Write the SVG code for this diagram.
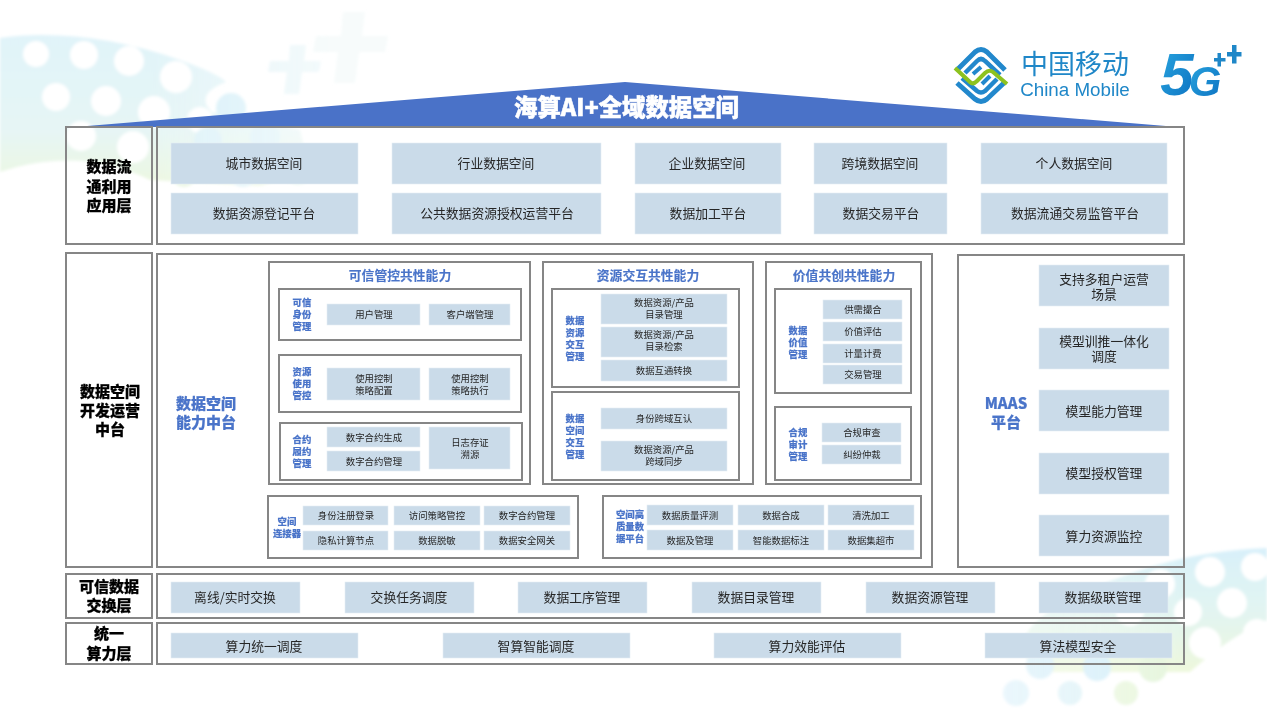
<svg xmlns="http://www.w3.org/2000/svg" width="1267" height="713" viewBox="0 0 1267 713">
<style>
text{font-family:"Noto Sans CJK SC","Liberation Sans",sans-serif;text-anchor:middle}
.b{fill:none;stroke:#868686;stroke-width:2}
.c{fill:#cadbe9;stroke:#e4edf4;stroke-width:.6}
.t{font-size:12.8px;fill:#262626}
.s{font-size:9.4px;fill:#262626}
.k{font-size:15px;font-weight:900;fill:#000;stroke:#000;stroke-width:.25}
.h{font-size:12.8px;font-weight:700;fill:#4a74c9;stroke:#4a74c9;stroke-width:.15}
.l{font-size:9.4px;font-weight:900;fill:#4a74c9;stroke:#4a74c9;stroke-width:.15}
.m{font-size:15px;font-weight:900;fill:#4a74c9;stroke:#4a74c9;stroke-width:.2}
.wd{fill:#fff}
.en{font-family:"Liberation Sans",sans-serif}
.fg{font-family:"Liberation Sans",sans-serif;font-weight:700;font-style:italic;fill:url(#five)}
</style>
<defs>
<linearGradient id="wv" x1="0" y1="0" x2="0" y2="1"><stop offset="0" stop-color="#d8f0f8"/><stop offset=".62" stop-color="#dff3f3"/><stop offset="1" stop-color="#e8f6d8"/></linearGradient>
<linearGradient id="wv2" x1="0" y1="0" x2="0" y2="1"><stop offset="0" stop-color="#d2eef9"/><stop offset=".55" stop-color="#def3ee"/><stop offset="1" stop-color="#ebf7d6"/></linearGradient>
<linearGradient id="five" x1="0" y1="0" x2="1" y2="1"><stop offset="0" stop-color="#2aa7e0"/><stop offset="1" stop-color="#0b6fc0"/></linearGradient>
<linearGradient id="fadeL" gradientUnits="userSpaceOnUse" x1="150" y1="0" x2="330" y2="0"><stop offset="0" stop-color="#fff"/><stop offset="1" stop-color="#fff" stop-opacity=".45"/></linearGradient>
<linearGradient id="fadeR" gradientUnits="userSpaceOnUse" x1="1180" y1="0" x2="980" y2="0"><stop offset="0" stop-color="#fff"/><stop offset="1" stop-color="#fff" stop-opacity=".5"/></linearGradient>
<mask id="ml"><rect x="0" y="0" width="640" height="300" fill="url(#fadeL)"/></mask>
<mask id="mr"><rect x="900" y="500" width="367" height="213" fill="url(#fadeR)"/></mask>
<filter id="bl" x="-5%" y="-5%" width="110%" height="110%"><feGaussianBlur stdDeviation="1.6"/></filter>
</defs>
<rect width="1267" height="713" fill="#fff"/>
<g id="background" filter="url(#bl)">
<g mask="url(#ml)" opacity=".78">
<path d="M0 38C50 30 120 38 180 60C205 69 222 77 226 82C205 90 200 100 212 112L300 130L310 172L260 186L150 180C110 160 60 152 0 172Z" fill="url(#wv)"/>
<g class="wd">
<circle cx="36" cy="54" r="13"/><circle cx="84" cy="55" r="14"/><circle cx="129" cy="61" r="15"/><circle cx="176" cy="77" r="16"/>
<circle cx="56" cy="97" r="14"/><circle cx="106" cy="101" r="15"/><circle cx="154" cy="112" r="16"/><circle cx="200" cy="120" r="13"/>
<circle cx="81" cy="136" r="15"/><circle cx="133" cy="147" r="16"/>
</g>
<circle cx="231" cy="108" r="15" fill="#cdecf6"/><circle cx="208" cy="141" r="14" fill="#d5eff6"/><circle cx="265" cy="137" r="15" fill="#d5eff6"/>
<circle cx="184" cy="175" r="12" fill="#e4f4dc"/><circle cx="243" cy="173" r="14" fill="#d6eff5"/><circle cx="298" cy="171" r="14" fill="#def3e6"/>
<path d="M343 12h22l-3 24h26l-3 16h-26l-4 31h-21l4-31h-25l3-16h25z" fill="#e6f5f4"/>
<path d="M290 45h16l-2 16h17l-2 11h-17l-3 22h-15l3-22h-19l2-11h19z" fill="#ddf1f6"/>
</g>
<g mask="url(#mr)" opacity=".85">
<path d="M1267 548C1210 550 1150 562 1090 590C1040 612 1000 640 1040 672L1190 672C1215 650 1240 632 1267 620Z" fill="url(#wv2)"/>
<g class="wd">
<circle cx="1210" cy="572" r="15"/><circle cx="1255" cy="567" r="14"/><circle cx="1232" cy="603" r="15"/><circle cx="1188" cy="612" r="14"/><circle cx="1205" cy="643" r="16"/><circle cx="1257" cy="633" r="14"/><circle cx="1160" cy="584" r="15"/><circle cx="1130" cy="612" r="14"/>
</g>
<circle cx="1040" cy="665" r="14" fill="#cfecf8"/><circle cx="1097" cy="667" r="14" fill="#cfecf8"/><circle cx="1153" cy="668" r="14" fill="#e2f4d8"/>
<circle cx="1016" cy="693" r="13" fill="#d4eef9"/><circle cx="1070" cy="693" r="12" fill="#d8f0f6"/><circle cx="1126" cy="693" r="12" fill="#e6f6da"/>
</g>
</g>
<g id="roof">
<path d="M75 127L625 82L1178 127Z" fill="#4a72c8"/>
<text x="626.500" y="116" font-size="23.400" font-weight="900" fill="#fff" stroke="#fff" stroke-width=".5">海算AI+全域数据空间</text>
</g>
<g id="logo-china-mobile">
<g fill="none">
<path d="M957 70L975 52Q981 47 987 52L1005 70" stroke="#2288cc" stroke-width="5"/>
<path d="M965 73L977 61Q981 57 985 61L1000 75" stroke="#2288cc" stroke-width="4.500"/>
<path d="M973 74L981 67" stroke="#2288cc" stroke-width="4"/>
<path d="M957 83L975 99Q981 104 987 99L1005 82" stroke="#2288cc" stroke-width="5"/>
<path d="M962 78L977 91Q981 94 985 91L997 79" stroke="#2288cc" stroke-width="4.500"/>
<path d="M982 84L990 76" stroke="#2288cc" stroke-width="4"/>
<path d="M955 68L970 82Q973 85 977 81L985 73Q989 69 993 72L1007 84" stroke="#8dc21f" stroke-width="4"/>
</g>
<text x="1075" y="74" font-size="27" fill="#1f87c8">中国移动</text>
<text class="en" x="1075" y="96" font-size="18.800" fill="#1f87c8">China Mobile</text>
</g>
<g id="logo-5g">
<text class="fg" x="1177" y="95" font-size="60">5</text>
<text class="fg" x="1205" y="96" font-size="42">G</text>
<path d="M1214 58h3.500v-5h3.500v5h4.500v3.500h-4.500v5h-3.500v-5h-3.500z" fill="#1f87c8"/>
<path d="M1227 52h5v-7h4.500v7h5v4.500h-5v7h-4.500v-7h-5z" fill="#1f87c8"/>
</g>

<g id="connectors"></g>

<g id="layer-apps">
<rect class="b" x="66" y="127" width="86" height="117"/><rect class="b" x="157" y="127" width="1027" height="117"/>
<text class="k" x="109" y="172">数据流</text><text class="k" x="109" y="192">通利用</text><text class="k" x="109" y="211">应用层</text>
<rect class="c" x="171" y="143" width="187" height="41"/><text class="t" x="264" y="168">城市数据空间</text>
<rect class="c" x="392" y="143" width="209" height="41"/><text class="t" x="496" y="168">行业数据空间</text>
<rect class="c" x="635" y="143" width="146" height="41"/><text class="t" x="707" y="168">企业数据空间</text>
<rect class="c" x="814" y="143" width="133" height="41"/><text class="t" x="880" y="168">跨境数据空间</text>
<rect class="c" x="981" y="143" width="186" height="41"/><text class="t" x="1074" y="168">个人数据空间</text>
<rect class="c" x="171" y="193" width="187" height="41"/><text class="t" x="264" y="218">数据资源登记平台</text>
<rect class="c" x="392" y="193" width="209" height="41"/><text class="t" x="497" y="218">公共数据资源授权运营平台</text>
<rect class="c" x="635" y="193" width="146" height="41"/><text class="t" x="708" y="218">数据加工平台</text>
<rect class="c" x="814" y="193" width="133" height="41"/><text class="t" x="881" y="218">数据交易平台</text>
<rect class="c" x="981" y="193" width="187" height="41"/><text class="t" x="1075" y="218">数据流通交易监管平台</text>
</g>

<g id="layer-dev">
<rect class="b" x="66" y="253" width="86" height="314"/><rect class="b" x="157" y="254" width="775" height="313"/>
<text class="k" x="110" y="397">数据空间</text><text class="k" x="110" y="416">开发运营</text><text class="k" x="110" y="435">中台</text>
<text class="m" x="206" y="409">数据空间</text><text class="m" x="206" y="428">能力中台</text>
</g>

<g id="trusted-control">
<rect class="b" x="269" y="262" width="261" height="222"/>
<text class="h" x="400" y="280">可信管控共性能力</text>
<rect class="b" x="279" y="289" width="242" height="51"/>
<text class="l" x="302" y="306">可信</text><text class="l" x="302" y="318">身份</text><text class="l" x="302" y="330">管理</text>
<rect class="c" x="327" y="304" width="93" height="21"/><text class="s" x="374" y="318">用户管理</text>
<rect class="c" x="429" y="304" width="81" height="21"/><text class="s" x="470" y="318">客户端管理</text>
<rect class="b" x="279" y="355" width="242" height="57"/>
<text class="l" x="302" y="375">资源</text><text class="l" x="302" y="387">使用</text><text class="l" x="302" y="399">管控</text>
<rect class="c" x="327" y="368" width="93" height="32"/><text class="s" x="374" y="382">使用控制</text><text class="s" x="374" y="394">策略配置</text>
<rect class="c" x="429" y="368" width="81" height="32"/><text class="s" x="470" y="382">使用控制</text><text class="s" x="470" y="394">策略执行</text>
<rect class="b" x="280" y="423" width="242" height="57"/>
<text class="l" x="302" y="443">合约</text><text class="l" x="302" y="455">履约</text><text class="l" x="302" y="467">管理</text>
<rect class="c" x="327" y="427" width="93" height="20"/><text class="s" x="374" y="441">数字合约生成</text>
<rect class="c" x="327" y="451" width="93" height="20"/><text class="s" x="374" y="465">数字合约管理</text>
<rect class="c" x="429" y="427" width="81" height="42"/><text class="s" x="470" y="446">日志存证</text><text class="s" x="470" y="458">溯源</text>
</g>

<g id="resource-interaction">
<rect class="b" x="543" y="262" width="210" height="222"/>
<text class="h" x="648" y="280">资源交互共性能力</text>
<rect class="b" x="552" y="289" width="187" height="98"/>
<text class="l" x="575" y="324">数据</text><text class="l" x="575" y="336">资源</text><text class="l" x="575" y="348">交互</text><text class="l" x="575" y="360">管理</text>
<rect class="c" x="601" y="294" width="126" height="30"/><text class="s" x="664" y="306">数据资源/产品</text><text class="s" x="664" y="318">目录管理</text>
<rect class="c" x="601" y="327" width="126" height="30"/><text class="s" x="664" y="338">数据资源/产品</text><text class="s" x="664" y="350">目录检索</text>
<rect class="c" x="601" y="360" width="126" height="21"/><text class="s" x="664" y="374">数据互通转换</text>
<rect class="b" x="552" y="392" width="187" height="88"/>
<text class="l" x="575" y="422">数据</text><text class="l" x="575" y="434">空间</text><text class="l" x="575" y="446">交互</text><text class="l" x="575" y="458">管理</text>
<rect class="c" x="601" y="408" width="126" height="21"/><text class="s" x="664" y="422">身份跨域互认</text>
<rect class="c" x="601" y="441" width="126" height="30"/><text class="s" x="664" y="453">数据资源/产品</text><text class="s" x="664" y="465">跨域同步</text>
</g>

<g id="value-creation">
<rect class="b" x="766" y="262" width="155" height="222"/>
<text class="h" x="844" y="280">价值共创共性能力</text>
<rect class="b" x="775" y="289" width="136" height="104"/>
<text class="l" x="798" y="334">数据</text><text class="l" x="798" y="346">价值</text><text class="l" x="798" y="358">管理</text>
<rect class="c" x="823" y="300" width="79" height="19"/><text class="s" x="863" y="313">供需撮合</text>
<rect class="c" x="823" y="322" width="79" height="19"/><text class="s" x="863" y="335">价值评估</text>
<rect class="c" x="823" y="344" width="79" height="19"/><text class="s" x="863" y="357">计量计费</text>
<rect class="c" x="823" y="365" width="79" height="19"/><text class="s" x="863" y="378">交易管理</text>
<rect class="b" x="775" y="407" width="136" height="73"/>
<text class="l" x="798" y="436">合规</text><text class="l" x="798" y="448">审计</text><text class="l" x="798" y="460">管理</text>
<rect class="c" x="822" y="423" width="79" height="19"/><text class="s" x="862" y="436">合规审查</text>
<rect class="c" x="822" y="445" width="79" height="19"/><text class="s" x="862" y="458">纠纷仲裁</text>
</g>

<g id="space-connector">
<rect class="b" x="268" y="496" width="310" height="62"/>
<text class="l" x="287" y="525">空间</text><text class="l" x="287" y="537">连接器</text>
<rect class="c" x="303" y="506" width="85" height="19"/><text class="s" x="346" y="519">身份注册登录</text>
<rect class="c" x="394" y="506" width="86" height="19"/><text class="s" x="437" y="519">访问策略管控</text>
<rect class="c" x="484" y="506" width="86" height="19"/><text class="s" x="527" y="519">数字合约管理</text>
<rect class="c" x="303" y="531" width="85" height="19"/><text class="s" x="346" y="544">隐私计算节点</text>
<rect class="c" x="394" y="531" width="86" height="19"/><text class="s" x="437" y="544">数据脱敏</text>
<rect class="c" x="484" y="531" width="86" height="19"/><text class="s" x="527" y="544">数据安全网关</text>
</g>

<g id="quality-platform">
<rect class="b" x="603" y="496" width="318" height="62"/>
<text class="l" x="630" y="518">空间高</text><text class="l" x="630" y="530">质量数</text><text class="l" x="630" y="542">据平台</text>
<rect class="c" x="647" y="505" width="86" height="20"/><text class="s" x="690" y="519">数据质量评测</text>
<rect class="c" x="738" y="505" width="86" height="20"/><text class="s" x="781" y="519">数据合成</text>
<rect class="c" x="828" y="505" width="86" height="20"/><text class="s" x="871" y="519">清洗加工</text>
<rect class="c" x="647" y="530" width="86" height="20"/><text class="s" x="690" y="544">数据及管理</text>
<rect class="c" x="738" y="530" width="86" height="20"/><text class="s" x="781" y="544">智能数据标注</text>
<rect class="c" x="828" y="530" width="86" height="20"/><text class="s" x="871" y="544">数据集超市</text>
</g>

<g id="maas">
<rect class="b" x="958" y="255" width="226" height="312"/>
<text class="m" x="1006" y="409">MAAS</text><text class="m" x="1006" y="428">平台</text>
<rect class="c" x="1039" y="265" width="130" height="41"/><text class="t" x="1104" y="284">支持多租户运营</text><text class="t" x="1104" y="299">场景</text>
<rect class="c" x="1039" y="328" width="130" height="41"/><text class="t" x="1104" y="346">模型训推一体化</text><text class="t" x="1104" y="361">调度</text>
<rect class="c" x="1039" y="390" width="130" height="41"/><text class="t" x="1104" y="416">模型能力管理</text>
<rect class="c" x="1039" y="453" width="130" height="41"/><text class="t" x="1104" y="478">模型授权管理</text>
<rect class="c" x="1039" y="515" width="130" height="41"/><text class="t" x="1104" y="541">算力资源监控</text>
</g>

<g id="layer-exchange">
<rect class="b" x="66" y="574" width="86" height="44"/><rect class="b" x="157" y="574" width="1027" height="44"/>
<text class="k" x="109" y="592">可信数据</text><text class="k" x="109" y="611">交换层</text>
<rect class="c" x="171" y="582" width="129" height="31"/><text class="t" x="235" y="602">离线/实时交换</text>
<rect class="c" x="345" y="582" width="129" height="31"/><text class="t" x="409" y="602">交换任务调度</text>
<rect class="c" x="518" y="582" width="129" height="31"/><text class="t" x="582" y="602">数据工序管理</text>
<rect class="c" x="692" y="582" width="129" height="31"/><text class="t" x="756" y="602">数据目录管理</text>
<rect class="c" x="866" y="582" width="129" height="31"/><text class="t" x="930" y="602">数据资源管理</text>
<rect class="c" x="1039" y="582" width="129" height="31"/><text class="t" x="1103" y="602">数据级联管理</text>
</g>

<g id="layer-compute">
<rect class="b" x="66" y="623" width="86" height="41"/><rect class="b" x="157" y="623" width="1027" height="41"/>
<text class="k" x="109" y="639">统一</text><text class="k" x="109" y="659">算力层</text>
<rect class="c" x="171" y="633" width="187" height="25"/><text class="t" x="264" y="651">算力统一调度</text>
<rect class="c" x="443" y="633" width="187" height="25"/><text class="t" x="536" y="651">智算智能调度</text>
<rect class="c" x="714" y="633" width="187" height="25"/><text class="t" x="807" y="651">算力效能评估</text>
<rect class="c" x="985" y="633" width="187" height="25"/><text class="t" x="1078" y="651">算法模型安全</text>
</g>
</svg>
